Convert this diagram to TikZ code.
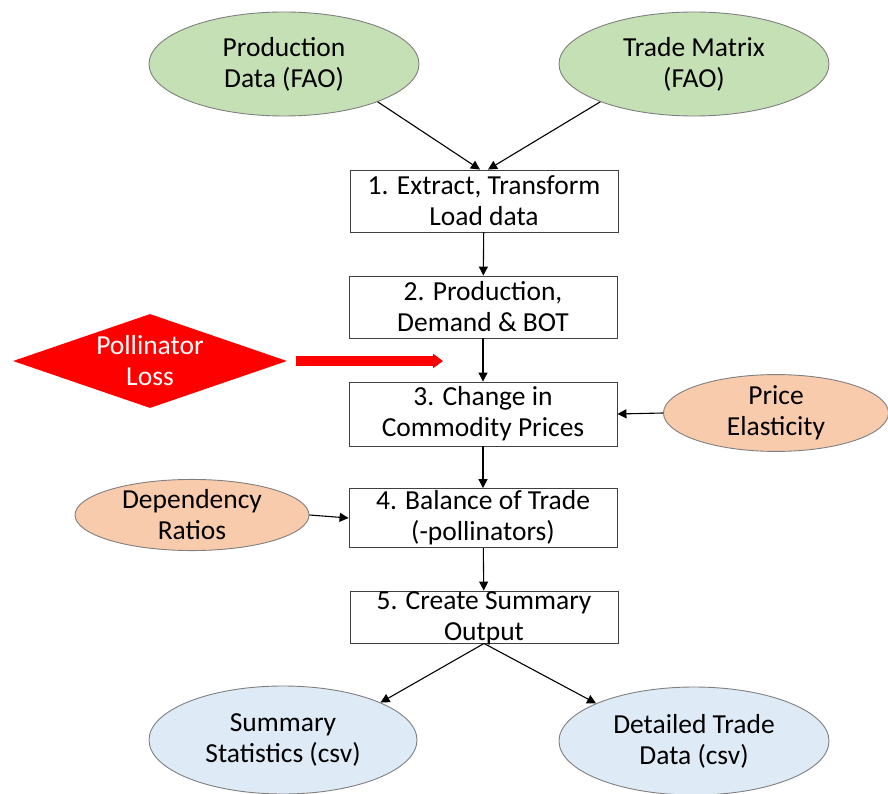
\documentclass[tikz,border=0pt]{standalone}
\usepackage{fontspec}
\setmainfont{Carlito}
\usepackage{xcolor}
\usetikzlibrary{shapes.geometric,arrows.meta}

\definecolor{fillgreen}{HTML}{C5E0B4}
\definecolor{fillorange}{HTML}{F8CBAD}
\definecolor{fillblue}{HTML}{DEEBF7}
\definecolor{lossred}{HTML}{FF0000}
\definecolor{rim}{HTML}{7F7F7F}

\tikzset{
  stepbox/.style={draw=black!75, line width=0.9pt, fill=white, minimum width=268pt, inner sep=0pt, align=center},
  oval/.style={ellipse, draw=rim, line width=0.9pt, inner sep=0pt, align=center},
  link/.style={-{Triangle[length=9pt,width=9pt]}, line width=1.1pt},
}

\begin{document}
\begin{tikzpicture}[x=1pt,y=-1pt,font=\fontsize{27.5}{31}\selectfont]
\useasboundingbox (0,0) rectangle (888,794);

% inputs
\node[oval, fill=fillgreen, minimum width=270pt, minimum height=104pt] (prod) at (284,64) {Production\\Data (FAO)};
\node[oval, fill=fillgreen, minimum width=270pt, minimum height=104pt] (trade) at (694,64) {Trade Matrix\\(FAO)};

% steps
\node[stepbox, minimum height=62pt] (etl) at (484,201) {1. Extract, Transform\\Load data};
\node[stepbox, minimum height=62pt] (bot) at (483,307) {2. Production,\\Demand \& BOT};
\node[stepbox, minimum height=64pt] (price) at (483,414) {3. Change in\\Commodity Prices};
\node[stepbox, minimum height=59pt] (balance) at (483,518) {4. Balance of Trade\\(-pollinators)};
\node[stepbox, minimum height=52pt] (summary) at (484,617) {};
\node[align=center, inner sep=0pt] (summarytext) at (484,618) {5. Create Summary\\Output};

% side inputs
\node[diamond, fill=lossred, text=white, aspect=2.9, inner sep=0pt, minimum width=274pt, minimum height=94pt, align=center] (loss) at (150,361) {Pollinator\\Loss};
\node[oval, fill=fillorange, minimum width=225pt, minimum height=70pt] (elast) at (776,413) {Price\\Elasticity};
\node[oval, fill=fillorange, minimum width=234pt, minimum height=70pt] (dep) at (192,515) {Dependency\\Ratios};

% outputs
\node[oval, fill=fillblue, minimum width=268pt, minimum height=108pt] (stats) at (283,740) {Summary\\Statistics (csv)};
\node[oval, fill=fillblue, minimum width=270pt, minimum height=108pt] (detail) at (694,741) {Detailed Trade\\Data (csv)};

% connectors
\draw[link] (prod.-22) -- ([xshift=-4pt]etl.north);
\draw[link] (trade.202) -- ([xshift=4pt]etl.north);
\draw[link] (etl) -- (bot);
\draw[link] (bot) -- (price);
\draw[link] (price) -- (balance);
\draw[link] (balance) -- (summary);
\draw[link] (elast.west) -- (price.east);
\draw[link] (dep.east) -- (balance.west);
\draw[link] (summary.south) -- (stats.21);
\draw[link] (summary.south) -- (detail.159);

\coordinate (redtip) at (443,361);
\draw[lossred, line width=9.5pt, -{Triangle[length=10pt,width=14pt]}] ([xshift=9pt]loss.east) -- (redtip);
\end{tikzpicture}
\end{document}
